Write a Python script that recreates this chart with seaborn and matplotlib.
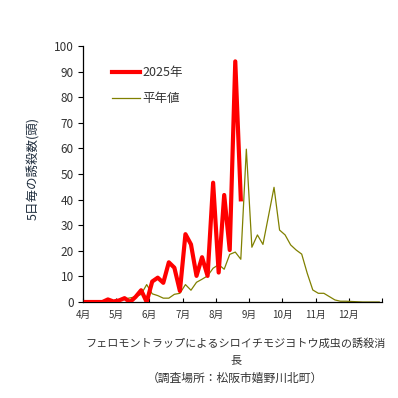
import matplotlib
matplotlib.use("Agg")
import matplotlib.pyplot as plt
import seaborn as sns
import pandas as pd
import numpy as np

# 5-day period index (6 per month, April..December)
months = ["4月", "5月", "6月", "7月", "8月", "9月", "10月", "11月", "12月"]
y2025 = [0, 0, 0, 0, 1.0, 0.2, 0.6, 1.5, 0, 2.0, 4.6, 0, 8.0, 9.5, 7.5, 15.5, 13.4,
         4.3, 26.5, 22.5, 10.2, 17.5, 10.2, 46.6, 11.5, 41.8, 20.3, 94.0, 40.1]
normal = [0, 0, 0.1, 0.2, 0.3, 0.5, 0.8, 1.2, 1.6, 2.0, 3.0, 6.8, 3.2, 2.5, 1.5, 1.5,
          3.0, 3.4, 6.8, 4.6, 7.7, 8.9, 10.2, 13.2, 14.6, 12.8, 18.6, 19.5, 16.7, 59.7,
          21.4, 26.2, 22.5, 33.6, 44.8, 28.1, 26.2, 22.3, 20.3, 18.7, 11.2, 4.7, 3.4,
          3.4, 2.1, 0.8, 0.3, 0.3, 0.2, 0.1, 0, 0, 0, 0]
yticks = list(range(0, 101, 10))

plt.rcParams['font.family'] = ['Noto Sans CJK JP', 'DejaVu Sans']

df_n = pd.DataFrame({"x": np.arange(len(normal)) + 0.5, "y": normal, "s": "平年値"})
df_r = pd.DataFrame({"x": np.arange(len(y2025)) + 0.5, "y": y2025, "s": "2025年"})

fig = plt.figure(figsize=(3.98, 3.98), dpi=100)
ax = fig.add_axes([83/398, 1-302/398, 299/398, 256/398])

sns.lineplot(data=df_r, x="x", y="y", color="#ff0000", linewidth=3.0, ax=ax,
             label="2025年", zorder=3)
sns.lineplot(data=df_n, x="x", y="y", color="#808000", linewidth=0.9, ax=ax,
             label="平年値", zorder=2)

ax.set_xlim(0, 54)
ax.set_ylim(0, 100)
ax.set_xticks(range(0, 55, 6))
ax.set_xticklabels(months + [""], fontsize=7, color="#333333")
ax.set_yticks(yticks)
ax.set_yticklabels([str(v) for v in yticks], fontsize=8.5, color="#333333")
ax.tick_params(axis="x", direction="in", length=3, width=0.8, pad=6)
ax.tick_params(axis="y", direction="out", length=3.5, width=0.8, pad=3)
for s in ["top", "right"]:
    ax.spines[s].set_visible(False)
for s in ["left", "bottom"]:
    ax.spines[s].set_color("black")
    ax.spines[s].set_linewidth(0.9)
ax.set_xlabel("")
ax.set_ylabel("5日毎の誘殺数(頭)", fontsize=9, color="#1f2d3d", labelpad=7)
ax.yaxis.set_label_coords(-0.143, 0.52)

leg = ax.legend(loc="upper left", bbox_to_anchor=(0.097, 0.92), frameon=False,
                fontsize=9, handlelength=2.2, handletextpad=0.2, labelspacing=1.0,
                borderpad=0, borderaxespad=0)
for t in leg.get_texts():
    t.set_color("#333333")

fig.text(236/398, 1-343/398, "フェロモントラップによるシロイチモジヨトウ成虫の誘殺消",
         ha="center", va="center", fontsize=8.0, color="#333333")
fig.text(236/398, 1-360/398, "長", ha="center", va="center", fontsize=8.0, color="#333333")
fig.text(235/398, 1-378/398, "（調査場所：松阪市嬉野川北町）", ha="center", va="center",
         fontsize=8.5, color="#333333")

fig.savefig("out.png", dpi=100)
